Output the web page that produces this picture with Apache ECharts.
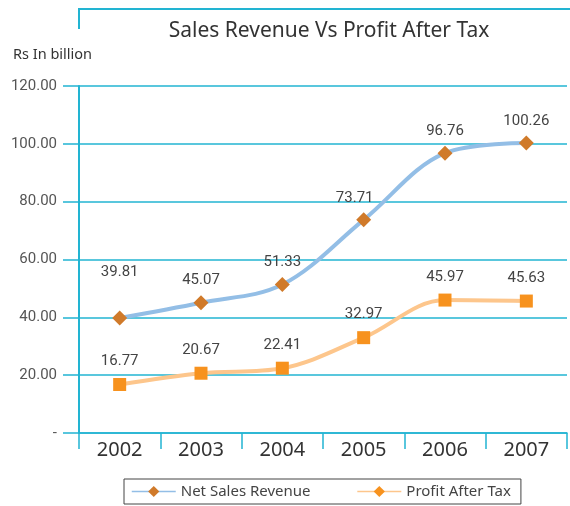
<!DOCTYPE html>
<html>
<head>
<meta charset="utf-8">
<script src="https://cdn.jsdelivr.net/npm/echarts@6/dist/echarts.min.js"></script>
<style>
html,body{margin:0;padding:0;background:#fff;}
#chart{width:570px;height:506px;}
</style>
</head>
<body>
<div id="chart"></div>
<script>
const years = ['2002', '2003', '2004', '2005', '2006', '2007'];
const netSalesRevenue = [39.81, 45.07, 51.33, 73.71, 96.76, 100.26];
const profitAfterTax = [16.77, 20.67, 22.41, 32.97, 45.97, 45.63];
const yTicks = [0, 20, 40, 60, 80, 100, 120];

const salesLabelShift = [[0, -24], [0, 0], [0, 0], [-9, 0], [0, 0], [0, 0]];
const profitLabelShift = [[0, 0], [0, 0], [0, 0], [0, 0], [0, 0], [0, 0]];

const cyan = '#22b4d2';
const narrow = 'Roboto';
const sans = 'Noto Sans';

function withShift(values, shifts, sym) {
  return values.map((v, i) => {
    const d = { value: v, label: { offset: shifts[i] } };
    if (sym) d.symbol = sym;
    return d;
  });
}

const chart = echarts.init(document.getElementById('chart'));
chart.setOption({
  backgroundColor: '#ffffff',
  animation: false,
  title: {
    text: 'Sales Revenue Vs Profit After Tax',
    left: 324, top: 16, textAlign: 'center',
    textStyle: { fontFamily: sans, fontSize: 21, fontWeight: 'normal', color: '#333' }
  },
  graphic: [
    { type: 'line', shape: { x1: 79, y1: 9, x2: 570, y2: 9 }, style: { stroke: cyan, lineWidth: 2 } },
    { type: 'line', shape: { x1: 79, y1: 8, x2: 79, y2: 29 }, style: { stroke: cyan, lineWidth: 2 } },
    { type: 'text', left: 13, top: 47, style: { text: 'Rs In billion', font: '14.5px ' + sans, fill: '#333' } }
  ],
  legend: {
    left: 124, top: 479,
    itemWidth: 44, itemHeight: 14, itemGap: 46,
    borderColor: '#444', borderWidth: 1, padding: [5, 10, 5, 7],
    lineStyle: { width: 1.5 },
    textStyle: { fontFamily: sans, fontSize: 15, color: '#444' },
    data: ['Net Sales Revenue', 'Profit After Tax']
  },
  grid: { left: 79, right: 3, top: 86, bottom: 73, containLabel: false },
  xAxis: {
    type: 'category', data: years, boundaryGap: true,
    axisLine: { lineStyle: { color: cyan, width: 1.5 } },
    axisTick: { show: true, length: 16, lineStyle: { color: cyan, width: 1.5 } },
    axisLabel: { fontFamily: sans, fontSize: 20, color: '#333', margin: 7 }
  },
  yAxis: {
    type: 'value', min: yTicks[0], max: yTicks[yTicks.length - 1], interval: 20,
    axisLine: { show: true, lineStyle: { color: cyan, width: 2 } },
    axisTick: { show: true, length: 16, lineStyle: { color: cyan, width: 1.5 } },
    splitLine: { lineStyle: { color: cyan, width: 1.5 } },
    axisLabel: {
      fontFamily: narrow, fontSize: 15, color: '#555', margin: 22,
      formatter: v => v === 0 ? '-' : v.toFixed(2)
    }
  },
  series: [
    {
      name: 'Net Sales Revenue', type: 'line', smooth: 0.35,
      data: withShift(netSalesRevenue, salesLabelShift),
      symbol: 'diamond', symbolSize: 15,
      lineStyle: { color: '#93bee6', width: 4 },
      itemStyle: { color: '#d07a2a' },
      label: { show: true, position: 'top', distance: 7, fontFamily: narrow, fontSize: 15, color: '#444' },
      z: 3
    },
    {
      name: 'Profit After Tax', type: 'line', smooth: 0.35,
      data: withShift(profitAfterTax, profitLabelShift, 'rect'),
      symbol: 'diamond', symbolSize: 13,
      lineStyle: { color: '#fdc68c', width: 4 },
      itemStyle: { color: '#f7921e' },
      label: { show: true, position: 'top', distance: 9, fontFamily: narrow, fontSize: 15, color: '#444' },
      z: 3
    }
  ]
});
</script>
</body>
</html>
